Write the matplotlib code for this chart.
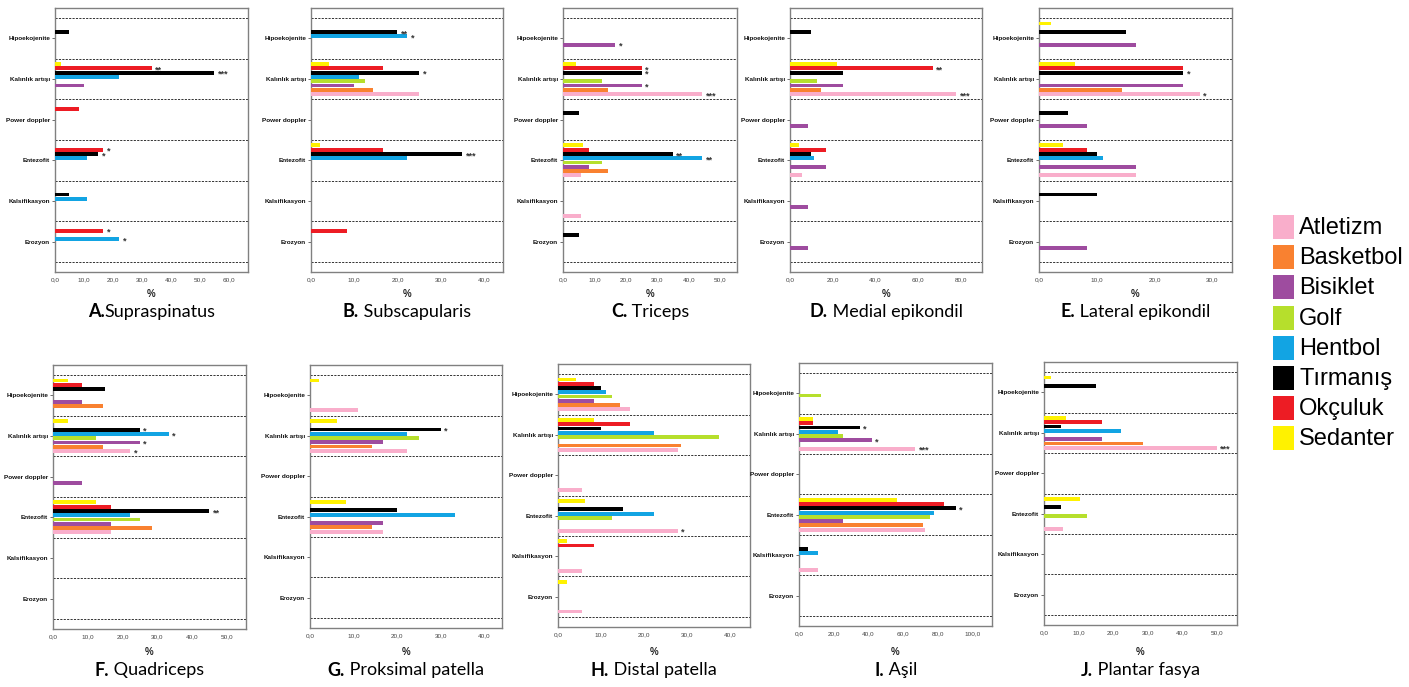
import matplotlib
matplotlib.use("Agg")
import matplotlib.pyplot as plt
from matplotlib.patches import Rectangle
import numpy as np

W, H = 1409, 687
fig = plt.figure(figsize=(W / 100, H / 100), dpi=100)

NARROW = ["Liberation Sans Narrow", "Liberation Sans", "DejaVu Sans"]
TITLEF = ["Lato", "DejaVu Sans"]

categories = ["Hipoekojenite", "Kalınlık artışı", "Power doppler", "Entezofit", "Kalsifikasyon", "Erozyon"]
sports = ["Atletizm", "Basketbol", "Bisiklet", "Golf", "Hentbol", "Tırmanış", "Okçuluk", "Sedanter"]
colors = ["#F9AECB", "#F98130", "#9E4C9F", "#B6DF2C", "#12A4E3", "#000000", "#ED1C24", "#FFF200"]

# rows = categories, columns = sports (Atletizm ... Sedanter), values in %
supraspinatus = [
    [0, 0, 0, 0, 0, 5.0, 0, 0],
    [0, 0, 10.0, 0, 22.2, 55.0, 33.3, 2.1],
    [0, 0, 0, 0, 0, 0, 8.3, 0],
    [0, 0, 0, 0, 11.1, 15.0, 16.7, 0],
    [0, 0, 0, 0, 11.1, 5.0, 0, 0],
    [0, 0, 0, 0, 22.2, 0, 16.7, 0],
]
supraspinatus_sig = [(1, 6, "**"), (1, 5, "***"), (3, 6, "*"), (3, 5, "*"), (5, 6, "*"), (5, 4, "*")]

subscapularis = [
    [0, 0, 0, 0, 22.2, 20.0, 0, 0],
    [25.0, 14.3, 10.0, 12.5, 11.1, 25.0, 16.7, 4.2],
    [0, 0, 0, 0, 0, 0, 0, 0],
    [0, 0, 0, 0, 22.2, 35.0, 16.7, 2.1],
    [0, 0, 0, 0, 0, 0, 0, 0],
    [0, 0, 0, 0, 0, 0, 8.3, 0],
]
subscapularis_sig = [(0, 5, "**"), (0, 4, "*"), (1, 5, "*"), (3, 5, "***")]

triceps = [
    [0, 0, 16.7, 0, 0, 0, 0, 0],
    [44.4, 14.3, 25.0, 12.5, 0, 25.0, 25.0, 4.2],
    [0, 0, 0, 0, 0, 5.0, 0, 0],
    [5.6, 14.3, 8.3, 12.5, 44.4, 35.0, 8.3, 6.3],
    [5.6, 0, 0, 0, 0, 0, 0, 0],
    [0, 0, 0, 0, 0, 5.0, 0, 0],
]
triceps_sig = [(0, 2, "*"), (1, 6, "*"), (1, 5, "*"), (1, 2, "*"), (1, 0, "***"), (3, 5, "**"), (3, 4, "**")]

medial_epikondil = [
    [0, 0, 0, 0, 0, 10.0, 0, 0],
    [77.8, 14.3, 25.0, 12.5, 0, 25.0, 66.7, 22.2],
    [0, 0, 8.3, 0, 0, 0, 0, 0],
    [5.6, 0, 16.7, 0, 11.1, 10.0, 16.7, 4.2],
    [0, 0, 8.3, 0, 0, 0, 0, 0],
    [0, 0, 8.3, 0, 0, 0, 0, 0],
]
medial_epikondil_sig = [(1, 6, "**"), (1, 0, "***")]

lateral_epikondil = [
    [0, 0, 16.7, 0, 0, 15.0, 0, 2.1],
    [27.8, 14.3, 25.0, 0, 0, 25.0, 25.0, 6.3],
    [0, 0, 8.3, 0, 0, 5.0, 0, 0],
    [16.7, 0, 16.7, 0, 11.1, 10.0, 8.3, 4.2],
    [0, 0, 0, 0, 0, 10.0, 0, 0],
    [0, 0, 8.3, 0, 0, 0, 0, 0],
]
lateral_epikondil_sig = [(1, 5, "*"), (1, 0, "*")]

quadriceps = [
    [0, 14.3, 8.3, 0, 0, 15.0, 8.3, 4.2],
    [22.2, 14.3, 25.0, 12.5, 33.3, 25.0, 0, 4.2],
    [0, 0, 8.3, 0, 0, 0, 0, 0],
    [16.7, 28.6, 16.7, 25.0, 22.2, 45.0, 16.7, 12.5],
    [0, 0, 0, 0, 0, 0, 0, 0],
    [0, 0, 0, 0, 0, 0, 0, 0],
]
quadriceps_sig = [(1, 5, "*"), (1, 4, "*"), (1, 2, "*"), (1, 0, "*"), (3, 5, "**")]

proksimal_patella = [
    [11.1, 0, 0, 0, 0, 0, 0, 2.1],
    [22.2, 14.3, 16.7, 25.0, 22.2, 30.0, 0, 6.3],
    [0, 0, 0, 0, 0, 0, 0, 0],
    [16.7, 14.3, 16.7, 0, 33.3, 20.0, 0, 8.3],
    [0, 0, 0, 0, 0, 0, 0, 0],
    [0, 0, 0, 0, 0, 0, 0, 0],
]
proksimal_patella_sig = [(1, 5, "*")]

distal_patella = [
    [16.7, 14.3, 8.3, 12.5, 11.1, 10.0, 8.3, 4.2],
    [27.8, 28.6, 0, 37.5, 22.2, 10.0, 16.7, 8.3],
    [5.6, 0, 0, 0, 0, 0, 0, 0],
    [27.8, 0, 0, 12.5, 22.2, 15.0, 0, 6.3],
    [5.6, 0, 0, 0, 0, 0, 8.3, 2.1],
    [5.6, 0, 0, 0, 0, 0, 0, 2.1],
]
distal_patella_sig = [(3, 0, "*")]

asil = [
    [0, 0, 0, 12.5, 0, 0, 0, 0],
    [66.7, 0, 41.7, 25.0, 22.2, 35.0, 8.3, 8.3],
    [0, 0, 0, 0, 0, 0, 0, 0],
    [72.2, 71.4, 25.0, 75.0, 77.8, 90.0, 83.3, 56.3],
    [11.1, 0, 0, 0, 11.1, 5.0, 0, 0],
    [0, 0, 0, 0, 0, 0, 0, 0],
]
asil_sig = [(1, 5, "*"), (1, 2, "*"), (1, 0, "***"), (3, 5, "*")]

plantar_fasya = [
    [0, 0, 0, 0, 0, 15.0, 0, 2.1],
    [50.0, 28.6, 16.7, 0, 22.2, 5.0, 16.7, 6.3],
    [0, 0, 0, 0, 0, 0, 0, 0],
    [5.6, 0, 0, 12.5, 0, 5.0, 0, 10.4],
    [0, 0, 0, 0, 0, 0, 0, 0],
    [0, 0, 0, 0, 0, 0, 0, 0],
]
plantar_fasya_sig = [(1, 0, "***")]

title_letters = ["A.", "B.", "C.", "D.", "E.", "F.", "G.", "H.", "I.", "J."]
title_names = ["Supraspinatus", " Subscapularis", " Triceps", " Medial epikondil", " Lateral epikondil",
               " Quadriceps", " Proksimal patella", " Distal patella", " Aşil", " Plantar fasya"]

panel_data = [supraspinatus, subscapularis, triceps, medial_epikondil, lateral_epikondil,
              quadriceps, proksimal_patella, distal_patella, asil, plantar_fasya]
panel_sig = [supraspinatus_sig, subscapularis_sig, triceps_sig, medial_epikondil_sig, lateral_epikondil_sig,
             quadriceps_sig, proksimal_patella_sig, distal_patella_sig, asil_sig, plantar_fasya_sig]
x_ticks = [np.arange(0, 61, 10), np.arange(0, 41, 10), np.arange(0, 51, 10), np.arange(0, 81, 20),
           np.arange(0, 31, 10), np.arange(0, 51, 10), np.arange(0, 41, 10), np.arange(0, 41, 10),
           np.arange(0, 101, 20), np.arange(0, 51, 10)]

# layout (pixel boxes: left, right, top, bottom) and x-axis maxima
boxes = [(55, 248, 8, 272), (311, 503, 8, 272), (563, 737, 8, 272), (790, 982, 8, 272), (1039, 1232, 8, 272),
         (53, 246, 365, 629), (310, 502, 365, 628), (558, 750, 364, 627), (799, 992, 363, 626), (1044, 1237, 362, 625)]
x_max = [66.6, 44.4, 55.4, 89.8, 33.4, 55.5, 44.1, 44.6, 110.9, 55.8]
title_y = [312] * 5 + [670] * 5
xlabel_y = [294] * 5 + [652] * 5

slot = 0.105
bar_h = 0.095

renderer = fig.canvas.get_renderer()

for p in range(10):
    l, r, t, b = boxes[p]
    ax = fig.add_axes([l / W, 1 - b / H, (r - l) / W, (b - t) / H])
    vals = np.array(panel_data[p], dtype=float)
    ncat = len(categories)
    base = np.arange(ncat)
    for k, s in enumerate(sports):
        ypos = base + (3.5 - k) * slot
        ax.barh(ypos, vals[:, k], height=bar_h, color=colors[k], edgecolor="none", zorder=3)
    for yl in np.arange(-0.5, ncat, 1.0):
        ax.axhline(yl, color="#333333", lw=0.7, ls=(0, (2.2, 1.3)), zorder=2)
    for (ci, si, txt) in panel_sig[p]:
        ax.annotate(txt, xy=(vals[ci, si], ci + (3.5 - si) * slot), xytext=(2.5, -1.2),
                    textcoords="offset points", ha="left", va="center", fontsize=6.5,
                    fontweight="bold", color="#333333", family=NARROW, zorder=4)
    ax.set_ylim(ncat - 0.25, -0.75)
    ax.set_xlim(0, x_max[p])
    ax.set_yticks(base)
    ax.set_yticklabels(categories, fontsize=4.6, fontweight="bold", family=NARROW, color="#111111")
    ax.set_xticks(x_ticks[p])
    ax.set_xticklabels([("%.1f" % v).replace(".", ",") for v in x_ticks[p]], fontsize=4.6,
                       family=NARROW, color="#444444")
    ax.tick_params(axis="y", length=2.5, width=0.6, color="#555555", pad=1)
    ax.tick_params(axis="x", length=0, pad=4)
    for sp in ax.spines.values():
        sp.set_color("#808080")
        sp.set_linewidth(1.0)
    cx = (l + r) / 2
    fig.text(cx / W, 1 - xlabel_y[p] / H, "%", ha="center", va="center", fontsize=7,
             fontweight="bold", family=NARROW, color="#222222")
    # title: bold letter + normal name, centered on axes
    tb = fig.text(0, 0, title_letters[p], fontsize=13, fontweight="bold", family=TITLEF)
    tn = fig.text(0, 0, title_names[p], fontsize=13, family=TITLEF)
    w1 = tb.get_window_extent(renderer).width
    w2 = tn.get_window_extent(renderer).width
    x0 = cx - (w1 + w2) / 2
    ty = 1 - title_y[p] / H
    tb.set_position((x0 / W, ty))
    tb.set_va("center")
    tn.set_position(((x0 + w1) / W, ty))
    tn.set_va("center")

# legend
for j, (s, c) in enumerate(zip(sports, colors)):
    top = 215 + 30.2 * j
    fig.add_artist(Rectangle((1273 / W, 1 - (top + 24) / H), 21 / W, 24 / H,
                             transform=fig.transFigure, facecolor=c, edgecolor="none"))
    fig.text(1299 / W, 1 - (top + 13) / H, s, fontsize=17, family=NARROW, va="center", ha="left",
             color="#000000")

fig.savefig("out.png", dpi=100)
